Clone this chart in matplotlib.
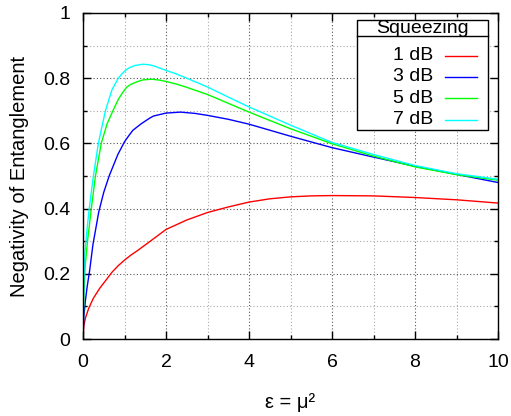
import numpy as np
import matplotlib
matplotlib.use('Agg')
import matplotlib.pyplot as plt
from matplotlib.ticker import MultipleLocator, FormatStrFormatter
from matplotlib.patches import Rectangle

plt.rcParams['font.family'] = ['Liberation Sans', 'DejaVu Sans']
plt.rcParams['font.size'] = 14

# values
eps_1db = [0, 0.02, 0.06, 0.14, 0.25, 0.4, 0.55, 0.7, 0.85, 1.0, 1.15, 1.3, 1.6, 2, 2.5, 3, 3.5, 4, 4.5, 5,
           5.5, 6, 7, 8, 9, 10]
neg_1db = [0, 0.04, 0.065, 0.095, 0.125, 0.155, 0.18, 0.205, 0.225, 0.242, 0.257, 0.27, 0.298, 0.336, 0.365,
           0.388, 0.405, 0.42, 0.43, 0.436, 0.439, 0.44, 0.439, 0.434, 0.427, 0.417]

eps_3db = [0, 0.02, 0.06, 0.1, 0.16, 0.24, 0.38, 0.5, 0.63, 0.84, 1.0, 1.1, 1.2, 1.4, 1.6, 1.7, 2.0, 2.35,
           2.7, 3, 3.5, 4, 5, 6, 7, 8, 9, 10]
neg_3db = [0, 0.07, 0.12, 0.16, 0.21, 0.29, 0.39, 0.45, 0.5, 0.566, 0.605, 0.623, 0.64, 0.66, 0.677, 0.684,
           0.693, 0.696, 0.692, 0.686, 0.674, 0.659, 0.622, 0.587, 0.558, 0.530, 0.505, 0.48]

eps_5db = [0, 0.02, 0.05, 0.1, 0.2, 0.3, 0.44, 0.58, 0.65, 0.72, 0.85, 0.95, 1.05, 1.15, 1.3, 1.45, 1.65,
           1.85, 2.0, 2.25, 2.5, 3, 3.5, 4, 5, 6, 7, 8, 9, 10]
neg_5db = [0, 0.14, 0.22, 0.29, 0.4, 0.5, 0.6, 0.66, 0.68, 0.70, 0.735, 0.755, 0.772, 0.781, 0.789, 0.795,
           0.797, 0.794, 0.79, 0.782, 0.772, 0.75, 0.723, 0.696, 0.645, 0.599, 0.561, 0.528, 0.504, 0.487]

eps_7db = [0, 0.02, 0.05, 0.1, 0.15, 0.25, 0.37, 0.54, 0.6, 0.7, 0.85, 0.95, 1.05, 1.15, 1.25, 1.45, 1.6,
           1.7, 2, 2.25, 2.5, 3, 3.5, 4, 5, 6, 7, 8, 9, 10]
neg_7db = [0, 0.18, 0.27, 0.34, 0.4, 0.5, 0.6, 0.7, 0.725, 0.765, 0.80, 0.815, 0.827, 0.834, 0.839, 0.843,
           0.841, 0.838, 0.824, 0.813, 0.80, 0.773, 0.742, 0.712, 0.656, 0.603, 0.566, 0.532, 0.507, 0.49]

labels = ['1 dB', '3 dB', '5 dB', '7 dB']
colors = ['#ff0000', '#0000ff', '#00ff00', '#00ffff']

fig = plt.figure(figsize=(5.11, 4.16), dpi=100)
ax = fig.add_axes([83/511, 77/416, 415/511, 326/416])

series = [(eps_1db, neg_1db), (eps_3db, neg_3db), (eps_5db, neg_5db), (eps_7db, neg_7db)]
for (x, y), c in zip(series, colors):
    ax.plot(x, y, color=c, lw=1.0)

ax.set_xlim(0, 10)
ax.set_ylim(0, 1)
ax.xaxis.set_major_locator(MultipleLocator(2))
ax.xaxis.set_minor_locator(MultipleLocator(1))
ax.yaxis.set_major_locator(MultipleLocator(0.2))
ax.yaxis.set_minor_locator(MultipleLocator(0.1))
ax.xaxis.set_major_formatter(FormatStrFormatter('%g'))
ax.yaxis.set_major_formatter(FormatStrFormatter('%g'))

ax.grid(which='major', color='#555555', ls=(0, (1, 2)), lw=0.8)
ax.grid(which='minor', color='#aaaaaa', ls=(0, (1, 2)), lw=0.8)
ax.set_axisbelow(True)
ax.tick_params(which='both', direction='in', top=True, right=True, width=1)
ax.tick_params(which='major', length=6)
ax.tick_params(axis='x', which='major', pad=11)
ax.tick_params(axis='y', which='major', pad=9)
ax.tick_params(which='minor', length=3)
for s in ax.spines.values():
    s.set_linewidth(1.0)

ax.set_xlabel('ε = μ²', labelpad=16, fontsize=14.5)
ax.set_ylabel('Negativity of Entanglement', labelpad=10, fontsize=14.5)

# gnuplot-style key box: title row, separator, text then line sample
box_x0, box_x1, box_y0, box_y1 = 0.660, 0.976, 0.641, 0.9785
ax.add_patch(Rectangle((box_x0, box_y0), box_x1 - box_x0, box_y1 - box_y0, transform=ax.transAxes,
                       facecolor='white', edgecolor='black', lw=1.0, zorder=5))
ax.plot([box_x0, box_x1], [0.9285, 0.9285], transform=ax.transAxes, color='black', lw=1.0, zorder=6)
ax.text(0.817, 0.9515, 'Squeezing', transform=ax.transAxes, ha='center', va='center', zorder=6)
row_y = [0.869, 0.8046, 0.7384, 0.6718]
for lab, c, yy in zip(labels, colors, row_y):
    ax.text(0.8434, yy, lab, transform=ax.transAxes, ha='right', va='center', zorder=6)
    ax.plot([0.872, 0.949], [yy, yy], transform=ax.transAxes, color=c, lw=1.0, zorder=6)

fig.savefig('out.png', dpi=100)
